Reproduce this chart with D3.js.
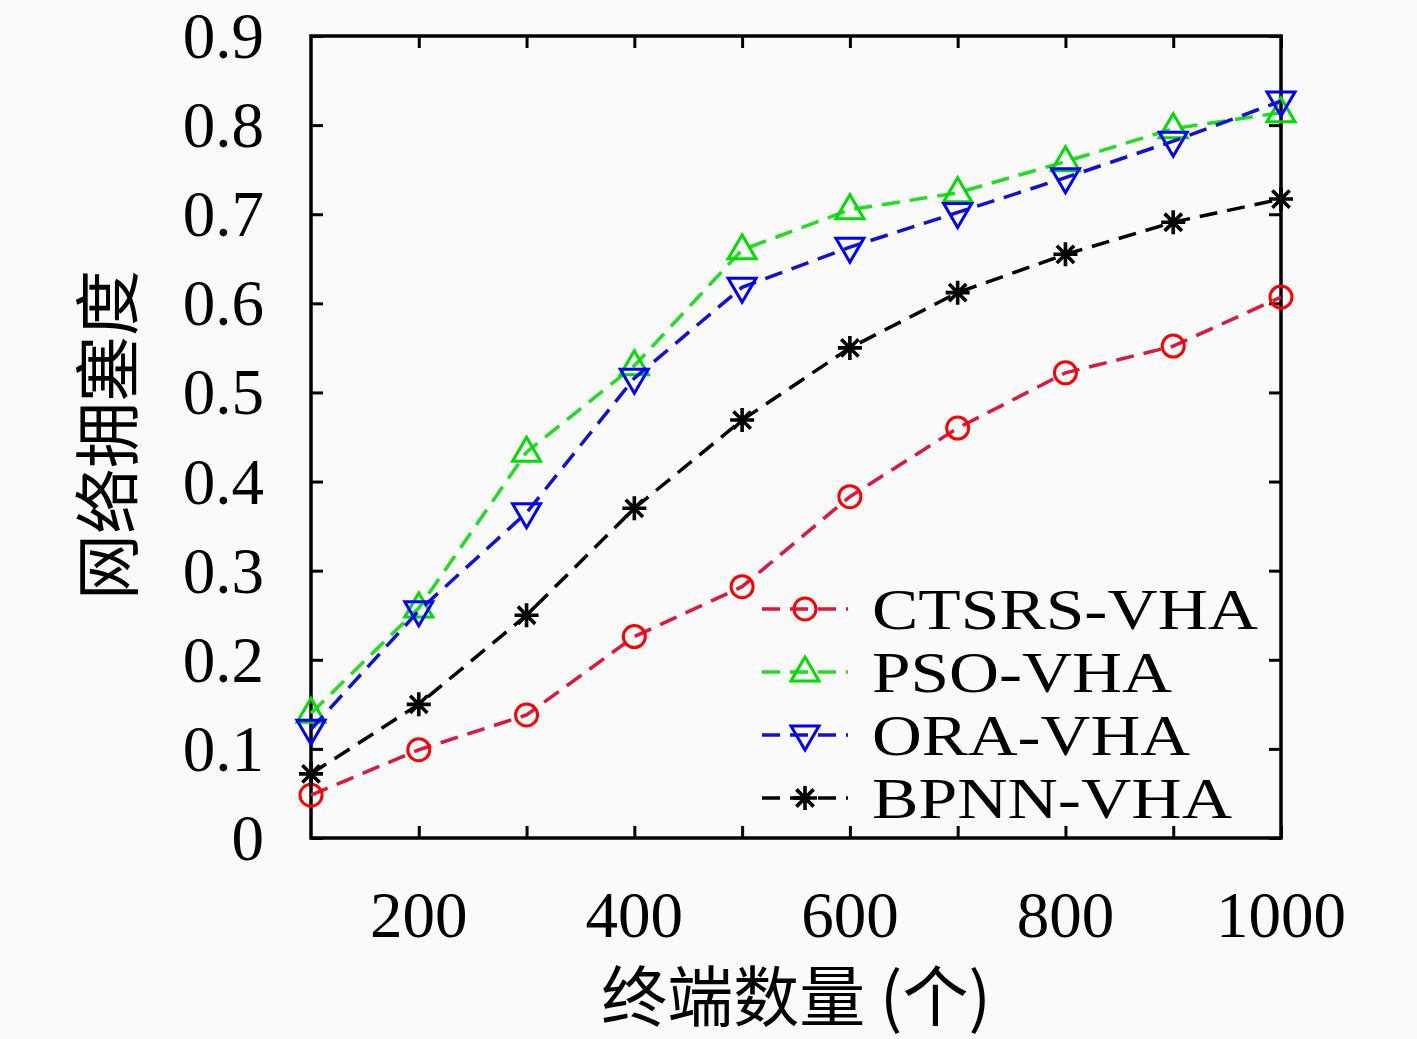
<!DOCTYPE html>
<html>
<head>
<meta charset="utf-8">
<script src="https://cdn.jsdelivr.net/npm/d3@7"></script>
<style>
  html, body { margin: 0; padding: 0; background: #fafafa; }
  svg { display: block; }
</style>
</head>
<body>
<svg id="chart" width="1417" height="1039"></svg>
<script>
// data
const terminals = [100, 200, 300, 400, 500, 600, 700, 800, 900, 1000];
const ctsrs = [0.048, 0.099, 0.138, 0.226, 0.282, 0.383, 0.460, 0.522, 0.552, 0.607];
const pso   = [0.140, 0.258, 0.433, 0.530, 0.660, 0.705, 0.724, 0.759, 0.796, 0.814];
const ora   = [0.122, 0.255, 0.365, 0.516, 0.618, 0.663, 0.702, 0.741, 0.782, 0.827];
const bpnn  = [0.072, 0.150, 0.250, 0.370, 0.469, 0.550, 0.612, 0.655, 0.691, 0.717];
const seriesNames = ["CTSRS-VHA", "PSO-VHA", "ORA-VHA", "BPNN-VHA"];
const xTickLabels = [200, 400, 600, 800, 1000];
const yTickLabels = [0, 0.1, 0.2, 0.3, 0.4, 0.5, 0.6, 0.7, 0.8, 0.9];
const xLabel = "终端数量 (个)";
const yLabel = "网络拥塞度";

const svg = d3.select("#chart");
const margin = { left: 311, right: 136, top: 36, bottom: 201 };
const width = +svg.attr("width");
const height = +svg.attr("height");

const x = d3.scaleLinear().domain([100, 1000]).range([margin.left, width - margin.right]);
const y = d3.scaleLinear().domain([0, 0.9]).range([height - margin.bottom, margin.top]);

const serif = "'Liberation Serif', 'DejaVu Serif', serif";
const cjk = "'Noto Sans CJK SC', sans-serif";

const styles = [
    { line: "#e0173c", mark: "#ff0000", shape: "circle" },
    { line: "#22dd22", mark: "#00dd00", shape: "up" },
    { line: "#1010dd", mark: "#0000ff", shape: "down" },
    { line: "#000000", mark: "#000000", shape: "star" }
];
const allSeries = [ctsrs, pso, ora, bpnn];

svg.append("rect").attr("width", width).attr("height", height).attr("fill", "#fafafa");

// axes: ticks inward on all four sides
const tickLen = 12;
const xTicks = d3.range(200, 1001, 100);

svg.append("g")
    .attr("transform", `translate(0,${y(0)})`)
    .call(d3.axisBottom(x).tickValues(xTicks).tickSize(-tickLen).tickFormat(""))
    .call(g => g.select(".domain").remove());
svg.append("g")
    .attr("transform", `translate(0,${y(0.9)})`)
    .call(d3.axisTop(x).tickValues(xTicks).tickSize(-tickLen).tickFormat(""))
    .call(g => g.select(".domain").remove());
svg.append("g")
    .attr("transform", `translate(${x(100)},0)`)
    .call(d3.axisLeft(y).tickValues(yTickLabels).tickSize(-tickLen).tickFormat(""))
    .call(g => g.select(".domain").remove());
svg.append("g")
    .attr("transform", `translate(${x(1000)},0)`)
    .call(d3.axisRight(y).tickValues(yTickLabels).tickSize(-tickLen).tickFormat(""))
    .call(g => g.select(".domain").remove());

svg.selectAll(".tick line").attr("stroke", "#000").attr("stroke-width", 3);

svg.append("rect")
    .attr("x", x(100)).attr("y", y(0.9))
    .attr("width", x(1000) - x(100)).attr("height", y(0) - y(0.9))
    .attr("fill", "none").attr("stroke", "#000").attr("stroke-width", 3.5);

// tick labels
svg.append("g").selectAll("text")
    .data(xTickLabels)
    .join("text")
    .attr("x", d => x(d))
    .attr("y", y(0) + 99)
    .attr("text-anchor", "middle")
    .style("font-family", serif)
    .style("font-size", "65px")
    .text(d => d);

svg.append("g").selectAll("text")
    .data(yTickLabels)
    .join("text")
    .attr("x", x(100) - 47)
    .attr("y", d => y(d) + 22)
    .attr("text-anchor", "end")
    .style("font-family", serif)
    .style("font-size", "65px")
    .text(d => d === 0 ? "0" : d3.format(".1f")(d));

// axis titles
svg.append("text")
    .attr("x", 796).attr("y", 1021)
    .attr("text-anchor", "middle")
    .style("font-family", cjk)
    .style("font-size", "66px")
    .text(xLabel);

svg.append("text")
    .attr("transform", `translate(132,${435}) rotate(-90)`)
    .attr("text-anchor", "middle")
    .style("font-family", cjk)
    .style("font-size", "66px")
    .text(yLabel);

function drawMarker(g, shape, color) {
    const sw = 3;
    if (shape === "circle") {
        g.append("circle").attr("r", 11).attr("fill", "none")
            .attr("stroke", color).attr("stroke-width", sw);
    } else if (shape === "up") {
        g.append("path").attr("d", "M0,-15L14,9L-14,9Z").attr("fill", "none")
            .attr("stroke", color).attr("stroke-width", sw);
    } else if (shape === "down") {
        g.append("path").attr("d", "M0,15L14,-9L-14,-9Z").attr("fill", "none")
            .attr("stroke", color).attr("stroke-width", sw);
    } else {
        const r = 12, d = r * 0.72;
        g.append("path")
            .attr("d", `M${-r},0L${r},0M0,${-r}L0,${r}M${-d},${-d}L${d},${d}M${-d},${d}L${d},${-d}`)
            .attr("stroke", color).attr("stroke-width", 3.6);
    }
}

const line = d3.line().x(d => x(d[0])).y(d => y(d[1]));

allSeries.forEach((vals, i) => {
    const pts = terminals.map((t, j) => [t, vals[j]]);
    const st = styles[i];
    svg.append("path")
        .datum(pts)
        .attr("d", line)
        .attr("fill", "none")
        .attr("stroke", st.line)
        .attr("stroke-width", 3.5)
        .attr("stroke-dasharray", "18,10");

    svg.append("g").selectAll("g")
        .data(pts)
        .join("g")
        .attr("transform", d => `translate(${x(d[0])},${y(d[1])})`)
        .each(function () { drawMarker(d3.select(this), st.shape, st.mark); });
});

// legend
const legendWidths = [386, 300, 318, 360];
const legend = svg.append("g");
seriesNames.forEach((name, i) => {
    const ly = 609 + i * 63;
    const st = styles[i];
    legend.append("line")
        .attr("x1", 762).attr("x2", 848).attr("y1", ly).attr("y2", ly)
        .attr("stroke", st.line).attr("stroke-width", 3.5)
        .attr("stroke-dasharray", "18,10");
    const mg = legend.append("g").attr("transform", `translate(805,${ly})`);
    drawMarker(mg, st.shape, st.mark);
    legend.append("text")
        .attr("x", 872).attr("y", ly + 20)
        .attr("textLength", legendWidths[i])
        .attr("lengthAdjust", "spacingAndGlyphs")
        .style("font-family", serif)
        .style("font-size", "58px")
        .text(name);
});
</script>
</body>
</html>
